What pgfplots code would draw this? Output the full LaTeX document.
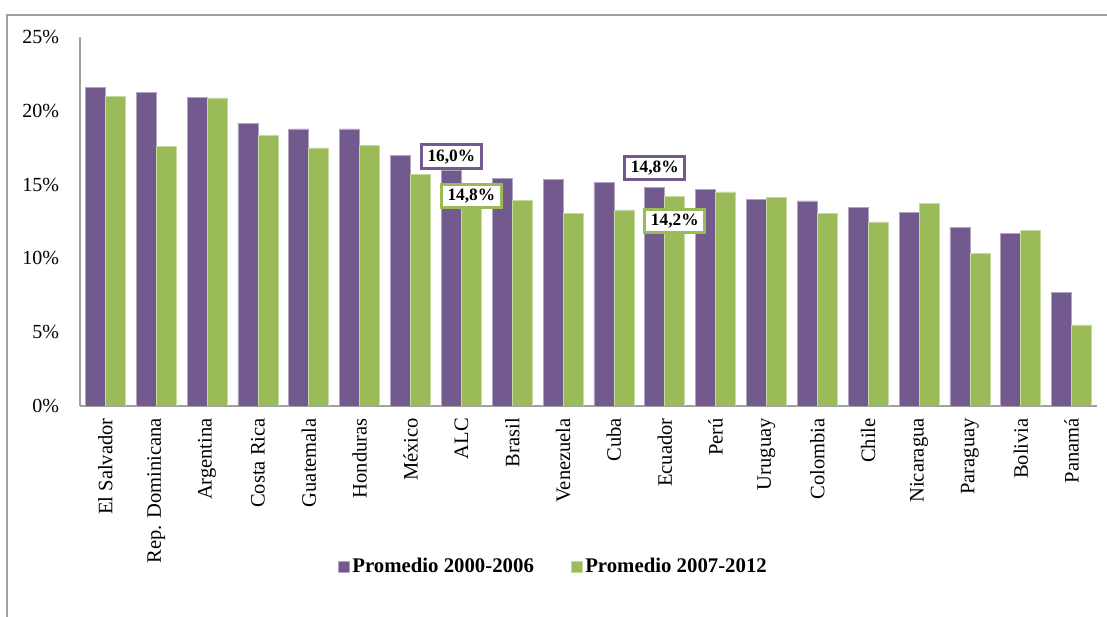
\documentclass[border=0pt]{standalone}
\usepackage{fontspec}
\setmainfont{Liberation Serif}
\usepackage{pgfplots}
\pgfplotsset{compat=1.18}
\definecolor{cpurple}{HTML}{725A8F}
\definecolor{cgreen}{HTML}{9BBB59}
\definecolor{axgray}{HTML}{A0A0A0}
\begin{document}
\fontsize{15}{18}\selectfont
\begin{tikzpicture}
\useasboundingbox (0pt,0pt) rectangle (830.25pt,462.75pt);
\draw[axgray, line width=1.1pt] (5.25pt,0pt) -- (5.25pt,451.5pt) -- (830.25pt,451.5pt);
\begin{axis}[
  at={(60pt,158.25pt)}, anchor=south west,
  scale only axis, width=762.75pt, height=276.75pt,
  xmin=-0.5, xmax=19.5, ymin=0, ymax=25,
  axis x line*=bottom, axis y line*=left,
  axis line style={axgray, line width=1.1pt},
  ybar, bar width=15pt,
  major tick length=0pt,
  ytick={0,5,10,15,20,25},
  yticklabels={0\%,5\%,10\%,15\%,20\%,25\%},
  yticklabel style={anchor=east, xshift=-10.5pt, font=\fontsize{15}{18}\selectfont},
  xtick={0,...,19},
  xticklabels={El Salvador,Rep. Dominicana,Argentina,Costa Rica,Guatemala,Honduras,México,ALC,Brasil,Venezuela,Cuba,Ecuador,Perú,Uruguay,Colombia,Chile,Nicaragua,Paraguay,Bolivia,Panamá},
  xticklabel style={rotate=90, anchor=east, inner xsep=9pt, font=\fontsize{15.4}{18}\selectfont},
  legend style={at={(0.466,-0.436)}, anchor=center, draw=none, fill=none,
    legend columns=2, font=\bfseries\fontsize{15.6}{18}\selectfont,
    /tikz/every even column/.append style={column sep=26pt}},
  legend image code/.code={\fill[#1] (0pt,-4pt) rectangle (8pt,4pt);},
]
\addplot[bar shift=-7.5pt, fill=cpurple, draw=cpurple!55!white, line width=0.5pt] coordinates {
(0,21.59) (1,21.23) (2,20.91) (3,19.17) (4,18.77) (5,18.77) (6,17.0) (7,16.0) (8,15.43) (9,15.36)
(10,15.15) (11,14.8) (12,14.68) (13,14.0) (14,13.89) (15,13.44) (16,13.14) (17,12.1) (18,11.72) (19,7.72)};
\addlegendentry{Promedio 2000-2006}
\addplot[bar shift=7.5pt, fill=cgreen, draw=cgreen!55!white, line width=0.5pt] coordinates {
(0,21.0) (1,17.6) (2,20.87) (3,18.36) (4,17.48) (5,17.68) (6,15.7) (7,14.8) (8,13.91) (9,13.05)
(10,13.28) (11,14.2) (12,14.5) (13,14.14) (14,13.05) (15,12.47) (16,13.73) (17,10.34) (18,11.9) (19,5.49)};
\addlegendentry{Promedio 2007-2012}
\tikzset{lbl/.style={fill=white, line width=2.25pt, font=\bfseries\fontsize{13}{14}\selectfont,
  inner xsep=4.5pt, inner ysep=3.2pt, text height=9.2pt, text depth=2.2pt}}
\node[lbl, draw=cpurple, anchor=south] at (axis cs:6.803,16.0) {16,0\%};
\node[lbl, draw=cgreen] at (axis cs:7.197,14.23) {14,8\%};
\node[lbl, draw=cpurple] at (axis cs:10.803,16.12) {14,8\%};
\node[lbl, draw=cgreen] at (axis cs:11.197,12.53) {14,2\%};
\end{axis}
\end{tikzpicture}
\end{document}
